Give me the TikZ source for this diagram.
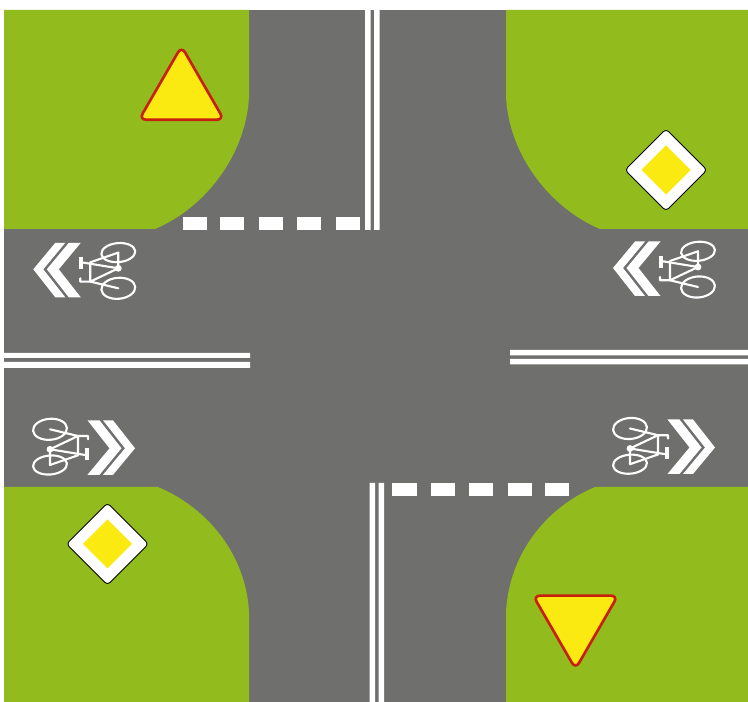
\documentclass[tikz,border=0pt]{standalone}
\usepackage{tikz}
\usetikzlibrary{calc}

\definecolor{grassgreen}{HTML}{92BB1D}
\definecolor{roadgray}{HTML}{6F6F6E}
\definecolor{signyellow}{HTML}{FBEA12}
\definecolor{signred}{HTML}{C8200E}

\begin{document}
\begin{tikzpicture}[
    x=0.02cm, y=-0.02cm,
    grass/.style={fill=grassgreen},
    paint/.style={fill=white},
    frameline/.style={draw=white, line width=1.2pt, line cap=round, line join=round},
    yieldsign/.pic={
        \draw[signred, fill=signyellow, line width=1.5pt, rounded corners=4pt]
            (-42.4,0) -- (0,-73.4) -- (42.4,0) -- cycle;
    },
    prioritysign/.pic={
        \draw[black, fill=white, line width=0.5pt, rounded corners=2pt]
            (-41,0) -- (0,-41) -- (41,0) -- (0,41) -- cycle;
        \fill[signyellow] (-24.5,0) -- (0,-24.5) -- (24.5,0) -- (0,24.5) -- cycle;
    },
    cyclelane/.pic={
        % wheels
        \draw[frameline] (0,-15.7) ellipse [x radius=17, y radius=9.5, rotate=5];
        \draw[frameline] (0,20) ellipse [x radius=17, y radius=10.5, rotate=5];
        % frame
        \draw[frameline] (0,-15.7) -- (0,0) -- (-28,13.3) -- (0,20);
        \draw[frameline] (0,0) -- (-37,-6);
        \draw[frameline] (0,-15.7) -- (-28,-6) -- (-28,13.3) -- (-38,13.3) -- (-38,10);
        \fill[white] (0,0) circle [radius=3.4];
        \fill[white] (-39,-11) rectangle (-35,1);
        % chevrons
        \fill[paint] (-63,-25.5) -- (-53,-25.5) -- (-75,1) -- (-53,29) -- (-63,29) -- (-85,1) -- cycle;
        \fill[paint] (-49.5,-25.5) -- (-37.5,-25.5) -- (-59.5,1) -- (-37.5,29) -- (-49.5,29) -- (-71.5,1) -- cycle;
    }
]
\useasboundingbox (0,0) rectangle (748,702);
\fill[roadgray] (4,10) rectangle (748,702);

% corners
\fill[grass] (4,10) -- (249,10) -- (249,97) .. controls (246,155) and (205,208) .. (155,229) -- (4,229) -- cycle;
\fill[grass] (748,10) -- (506,10) -- (506,97) .. controls (509,155) and (550,208) .. (600,229) -- (748,229) -- cycle;
\fill[grass] (4,702) -- (249,702) -- (249,612) .. controls (246,555) and (208,508) .. (158,487) -- (4,487) -- cycle;
\fill[grass] (748,702) -- (506,702) -- (506,612) .. controls (509,555) and (545,508) .. (595,487) -- (748,487) -- cycle;

% double lines
\fill[paint] (365,10) rectangle (370.5,230) (374,10) rectangle (379.5,230);
\fill[paint] (369.5,483) rectangle (375,702) (378.5,483) rectangle (384,702);
\fill[paint] (4,353) rectangle (250,358) (4,362) rectangle (250,368);
\fill[paint] (510,350) rectangle (748,355.5) (510,359) rectangle (748,364.5);

% give way lines
\foreach \xa/\xb in {183/206.5,219.5/244,258.5/282.5,296.5/320.5,336/360}
    \fill[paint] (\xa,217) rectangle (\xb,230);
\foreach \xa/\xb in {392/416.5,431/455,469/493,508/532,545/569}
    \fill[paint] (\xa,483.5) rectangle (\xb,496.5);

% signs
\pic at (181.5,119.7) {yieldsign};
\pic[rotate=180] at (575.5,595.6) {yieldsign};
\pic at (666,170) {prioritysign};
\pic at (107.5,544) {prioritysign};

% cycle lanes
\pic at (118.3,268.3) {cyclelane};
\pic at (698,267) {cyclelane};
\pic[rotate=180] at (50,449.3) {cyclelane};
\pic[rotate=180] at (630,448.5) {cyclelane};
\end{tikzpicture}
\end{document}
